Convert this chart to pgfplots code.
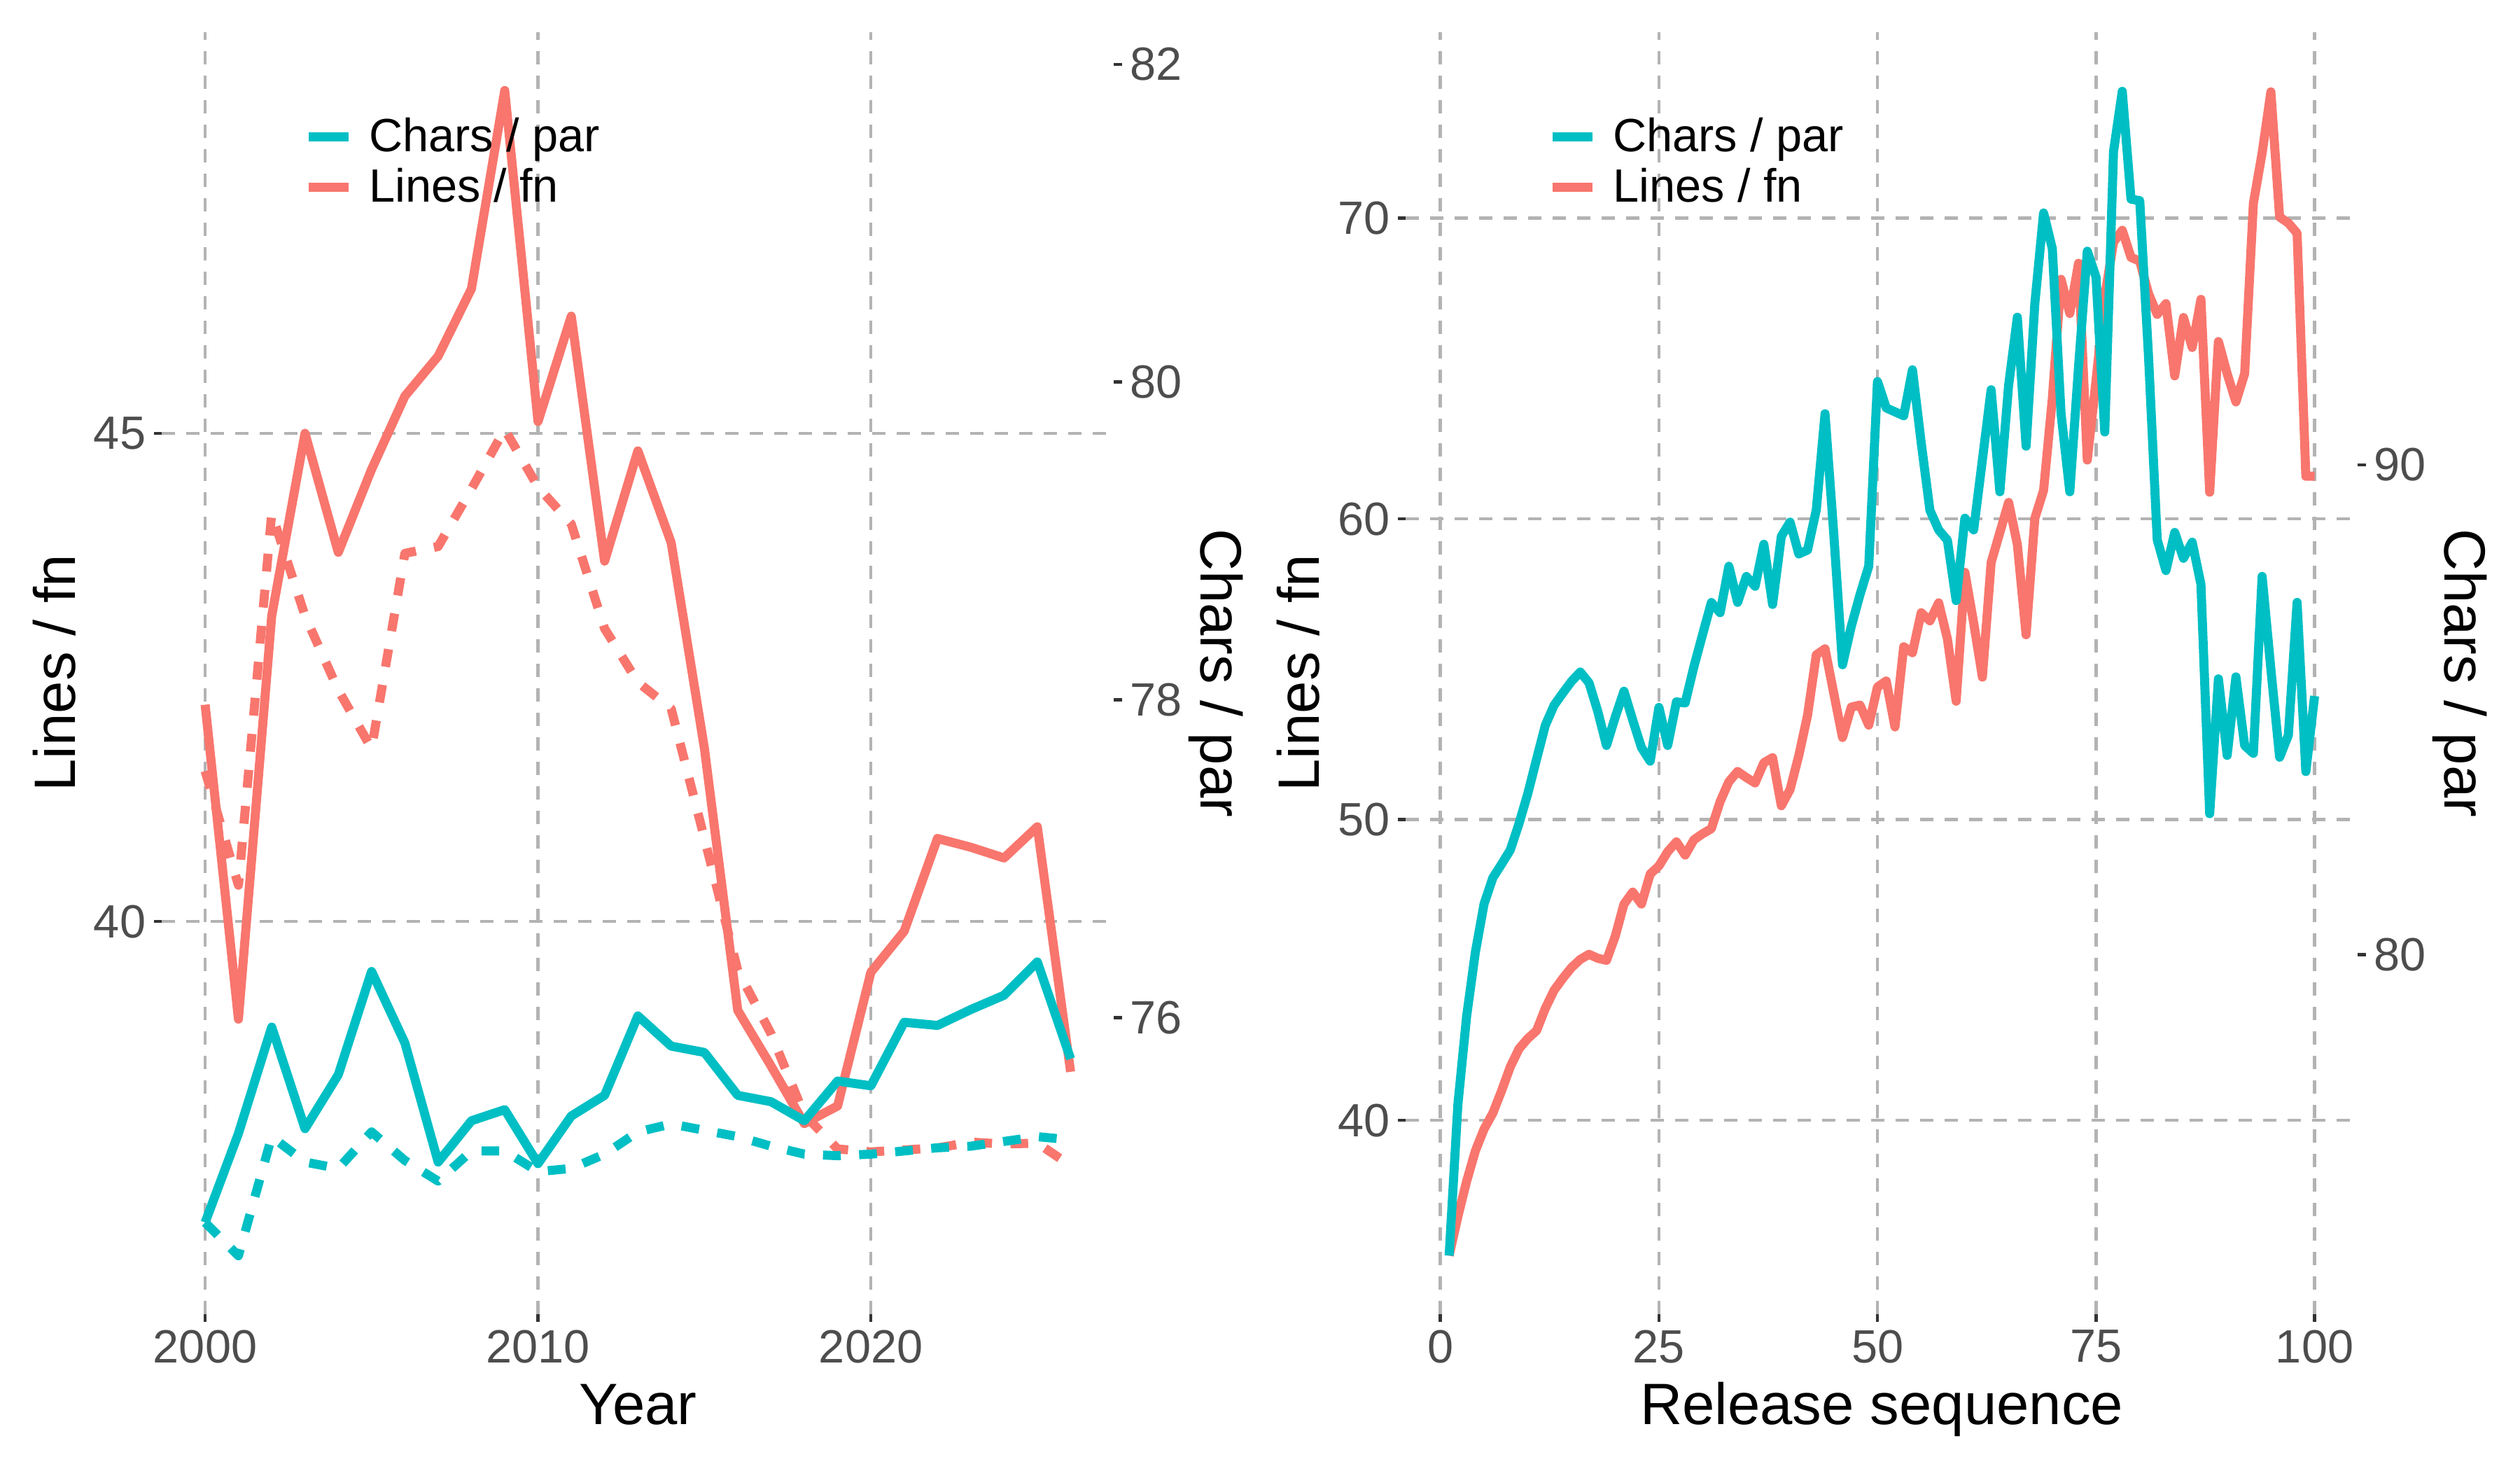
\documentclass[border=0pt]{standalone}
\usepackage{fontspec}
\setmainfont{Liberation Sans}
\usepackage{pgfplots}
\usepackage{pgfplotstable}
\pgfplotsset{compat=1.18}

\definecolor{charsc}{HTML}{00BFC4}
\definecolor{linesc}{HTML}{F8766D}
\definecolor{gridc}{HTML}{B3B3B3}
\definecolor{tickc}{HTML}{4D4D4D}
\definecolor{tickm}{HTML}{333333}

% Yearly series. lines/linesb on the Lines / fn scale,
% chars/charsb on the Chars / par scale; the *b columns are drawn dashed.
\pgfplotstableread{
year lines linesb chars charsb
2000 42.22 41.54 74.71 74.71
2001 39.00 40.37 75.27 74.50
2002 43.13 44.18 75.94 75.25
2003 45.00 43.13 75.30 75.09
2004 43.78 42.37 75.64 75.05
2005 44.63 41.77 76.29 75.28
2006 45.38 43.77 75.84 75.10
2007 45.79 43.84 75.09 74.97
2008 46.48 44.43 75.35 75.16
2009 48.51 45.04 75.42 75.16
2010 45.12 44.45 75.08 75.03
2011 46.20 44.07 75.38 75.05
2012 43.69 43.00 75.51 75.14
2013 44.82 42.45 76.01 75.28
2014 43.88 42.18 75.82 75.33
2015 41.77 40.85 75.78 75.29
2016 39.09 39.50 75.51 75.25
2017 38.52 38.85 75.47 75.19
2018 37.93 38.02 75.35 75.14
2019 38.11 37.67 75.60 75.13
2020 39.48 37.64 75.57 75.14
2021 39.90 37.66 75.97 75.16
2022 40.85 37.68 75.95 75.18
2023 40.76 37.74 76.05 75.19
2024 40.65 37.72 76.14 75.22
2025 40.97 37.73 76.35 75.25
2026 38.46 37.50 75.74 75.23
}\yearly

% Per-release series
\pgfplotstableread{
seq lines chars
1 35.50 73.86
2 36.80 76.94
3 37.97 78.74
4 38.98 80.05
5 39.71 81.04
6 40.24 81.57
7 40.98 81.85
8 41.78 82.14
9 42.38 82.68
10 42.72 83.29
11 42.98 83.99
12 43.72 84.68
13 44.32 85.09
14 44.72 85.34
15 45.08 85.58
16 45.35 85.77
17 45.52 85.55
18 45.39 84.97
19 45.32 84.27
20 46.12 84.85
21 47.19 85.38
22 47.59 84.79
23 47.19 84.23
24 48.19 83.95
25 48.46 85.05
26 48.93 84.27
27 49.26 85.16
28 48.82 85.14
29 49.33 85.88
30 49.53 86.54
31 49.70 87.19
32 50.60 86.98
33 51.26 87.93
34 51.60 87.19
35 51.40 87.72
36 51.22 87.52
37 51.89 88.38
38 52.06 87.15
39 50.46 88.54
40 51.00 88.83
41 52.13 88.18
42 53.47 88.26
43 55.48 89.08
44 55.68 91.04
45 54.20 88.59
46 52.73 85.92
47 53.74 86.70
48 53.81 87.35
49 53.14 87.93
50 54.41 91.70
51 54.61 91.16
52 53.08 91.08
53 55.75 91.00
54 55.55 91.94
55 56.88 90.45
56 56.61 89.07
57 57.21 88.67
58 56.01 88.46
59 53.94 87.23
60 58.22 88.91
61 56.55 88.67
62 54.74 90.10
63 58.55 91.53
64 59.55 89.45
65 60.55 91.62
66 59.15 93.01
67 56.15 90.38
68 60.02 93.29
69 60.95 95.14
70 64.00 94.41
71 67.97 91.04
72 66.83 89.45
73 68.50 92.00
74 61.96 94.36
75 64.60 93.83
76 67.40 90.67
77 69.20 96.39
78 69.60 97.62
79 68.70 95.42
80 68.57 95.39
81 67.50 92.23
82 66.80 88.47
83 67.16 87.84
84 64.76 88.62
85 66.70 88.09
86 65.70 88.42
87 67.30 87.56
88 60.89 82.88
89 65.90 85.63
90 64.83 84.07
91 63.89 85.67
92 64.83 84.27
93 70.50 84.11
94 72.17 87.72
95 74.20 85.83
96 70.04 84.03
97 69.84 84.48
98 69.50 87.19
99 61.42 83.74
100 61.42 85.28
}\releases

\pgfplotsset{
  panel/.style={
    scale only axis, width=326.4pt, height=439.4pt,
    axis line style={draw=none},
    tick align=outside, major tick length=2.75pt,
    tick style={draw=tickm, line width=1.1pt},
    tick label style={font=\fontsize{16}{19}\selectfont, text=tickc, inner sep=0pt},
    /pgf/number format/assume math mode=true,
    /pgf/number format/1000 sep={},
    xticklabel shift=2.6pt, yticklabel shift=2.6pt,
    every axis x label/.style={at={(axis description cs:0.5,-0.086)}, anchor=base,
      font=\fontsize{20}{24}\selectfont, text=black, inner sep=0pt},
    every axis y label/.style={at={(axis description cs:-0.091,0.5)}, rotate=90, anchor=base,
      font=\fontsize{20}{24}\selectfont, text=black, inner sep=0pt},
    grid style={draw=gridc, line width=1.1pt, dash pattern=on 4.4pt off 4pt},
  },
  second/.style={
    panel, axis x line=none, axis y line*=right,
    every axis y label/.style={at={(axis description cs:1.091,0.5)}, rotate=-90, anchor=base,
      font=\fontsize{20}{24}\selectfont, text=black, inner sep=0pt},
    legend style={at={(axis description cs:0.1493,0.9332)}, anchor=north west,
      draw=none, fill=none, inner sep=0pt, outer sep=0pt, row sep=0pt,
      font=\fontsize{16}{19}\selectfont,
      nodes={inner sep=0pt, text height=11.6pt, text depth=5.65pt},
      /tikz/every odd column/.append style={column sep=5.4pt}},
    legend cell align=left,
    legend image code/.code={\draw[##1] (0pt,2.1pt) -- (13.8pt,2.1pt);},
  },
  solidline/.style={line width=3.1pt, line join=round, line cap=butt},
  dashline/.style={line width=3.1pt, line join=round, line cap=butt, dash pattern=on 6.1pt off 6.3pt},
}

\begin{document}
\begin{tikzpicture}
\useasboundingbox (0,0) rectangle (864pt,504pt);

% ---- left panel: by year ----
\begin{axis}[panel, at={(55.5pt,53.6pt)}, anchor=south west,
  axis x line*=bottom, axis y line*=left,
  xmin=1998.7, xmax=2027.3, ymin=35.98, ymax=49.109,
  xtick={2000,2010,2020}, ytick={40,45}, grid=major,
  xlabel={Year}, ylabel={Lines / fn}]
  \addplot[linesc, solidline] table[x=year, y=lines] {\yearly};
  \addplot[linesc, dashline] table[x=year, y=linesb] {\yearly};
\end{axis}
\begin{axis}[second, at={(55.5pt,53.6pt)}, anchor=south west,
  xmin=1998.7, xmax=2027.3, ymin=74.134, ymax=82.203,
  ytick={76,78,80,82}, ylabel={Chars / par}]
  \addlegendimage{charsc, solidline}\addlegendentry{Chars / par}
  \addlegendimage{linesc, solidline}\addlegendentry{Lines / fn}
  \addplot[charsc, solidline, forget plot] table[x=year, y=chars] {\yearly};
  \addplot[charsc, dashline, forget plot] table[x=year, y=charsb] {\yearly};
\end{axis}

% ---- right panel: by release ----
\begin{axis}[panel, at={(482.0pt,53.6pt)}, anchor=south west,
  axis x line*=bottom, axis y line*=left,
  xmin=-3.95, xmax=104.95, ymin=33.56, ymax=76.19,
  xtick={0,25,50,75,100}, ytick={40,50,60,70}, grid=major,
  xlabel={Release sequence}, ylabel={Lines / fn}]
  \addplot[linesc, solidline] table[x=seq, y=lines] {\releases};
\end{axis}
\begin{axis}[second, at={(482.0pt,53.6pt)}, anchor=south west,
  xmin=-3.95, xmax=104.95, ymin=72.67, ymax=98.83,
  ytick={80,90}, ylabel={Chars / par}]
  \addlegendimage{charsc, solidline}\addlegendentry{Chars / par}
  \addlegendimage{linesc, solidline}\addlegendentry{Lines / fn}
  \addplot[charsc, solidline, forget plot] table[x=seq, y=chars] {\releases};
\end{axis}
\end{tikzpicture}
\end{document}
